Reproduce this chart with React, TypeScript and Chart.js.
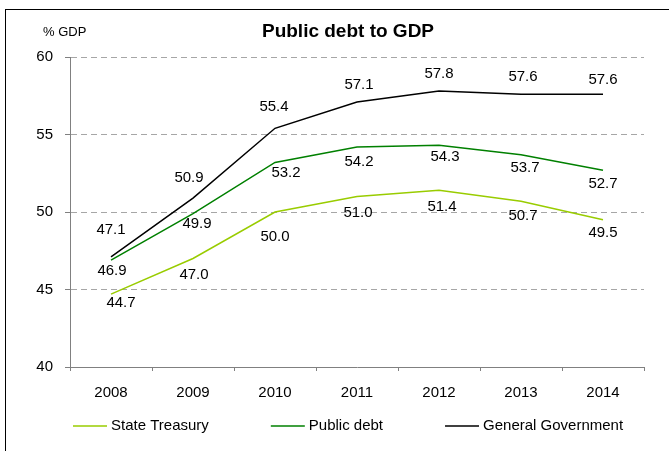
import React, { useEffect, useRef } from 'react';
import { Chart, registerables } from 'chart.js';

Chart.register(...registerables);

const years = ['2008', '2009', '2010', '2011', '2012', '2013', '2014'];
const stateTreasury = [44.7, 47.0, 50.0, 51.0, 51.4, 50.7, 49.5];
const publicDebt = [46.9, 49.9, 53.2, 54.2, 54.3, 53.7, 52.7];
const generalGovernment = [47.1, 50.9, 55.4, 57.1, 57.8, 57.6, 57.6];
const yMin = 40;
const yMax = 60;
const yStep = 5;

const FONT = "'Liberation Sans', Arial, sans-serif";

// label placement (style): [dx, dy] relative to the point
const stLabelOffsets = [[10, 9], [1, 16], [0, 25], [1, 16], [3, 17], [2, 15], [0, 13]];
const pdLabelOffsets = [[1, 11], [4, 10], [11, 10], [2, 15], [6, 12], [4, 13], [0, 14]];
const ggLabelOffsets = [[0, -27], [-4, -20], [-1, -21], [2, -17], [0, -17], [2, -17], [0, -14]];

const decorPlugin = {
  id: 'decor',
  afterDatasetsDraw(chart: any) {
    const ctx = chart.ctx;
    ctx.save();
    ctx.font = `15px ${FONT}`;
    ctx.fillStyle = '#000';
    ctx.textAlign = 'center';
    ctx.textBaseline = 'middle';
    chart.data.datasets.forEach((ds: any, i: number) => {
      const meta = chart.getDatasetMeta(i);
      meta.data.forEach((pt: any, j: number) => {
        const off = ds.labelOffsets[j];
        ctx.fillText(Number(ds.data[j]).toFixed(1), pt.x + off[0], pt.y + off[1]);
      });
    });
    ctx.restore();
  },
  afterDraw(chart: any) {
    const ctx = chart.ctx;
    ctx.save();
    // title
    ctx.fillStyle = '#000';
    ctx.textBaseline = 'middle';
    ctx.textAlign = 'center';
    ctx.font = `bold 19px ${FONT}`;
    ctx.fillText('Public debt to GDP', 348, 32);
    // unit
    ctx.textAlign = 'left';
    ctx.font = `13px ${FONT}`;
    ctx.fillText('% GDP', 43, 32);
    // legend
    ctx.font = `15px ${FONT}`;
    let x = 73;
    const y = 426;
    chart.data.datasets.forEach((ds: any) => {
      ctx.strokeStyle = ds.borderColor;
      ctx.lineWidth = 1.5;
      ctx.beginPath();
      ctx.moveTo(x, y);
      ctx.lineTo(x + 34, y);
      ctx.stroke();
      ctx.fillStyle = '#000';
      ctx.fillText(ds.label, x + 38, y);
      x += 38 + ctx.measureText(ds.label).width + 62;
    });
    ctx.restore();
  },
};

export default function App() {
  const ref = useRef<HTMLCanvasElement | null>(null);

  useEffect(() => {
    if (!ref.current) return;
    const chart = new Chart(ref.current, {
      type: 'line',
      data: {
        labels: years,
        datasets: [
          {
            label: 'State Treasury',
            data: stateTreasury,
            borderColor: '#99CC00',
            backgroundColor: '#99CC00',
            borderWidth: 1.5,
            pointRadius: 0,
            tension: 0,
            labelOffsets: stLabelOffsets,
          } as any,
          {
            label: 'Public debt',
            data: publicDebt,
            borderColor: '#008000',
            backgroundColor: '#008000',
            borderWidth: 1.5,
            pointRadius: 0,
            tension: 0,
            labelOffsets: pdLabelOffsets,
          } as any,
          {
            label: 'General Government',
            data: generalGovernment,
            borderColor: '#000000',
            backgroundColor: '#000000',
            borderWidth: 1.5,
            pointRadius: 0,
            tension: 0,
            labelOffsets: ggLabelOffsets,
          } as any,
        ],
      },
      options: {
        responsive: false,
        animation: false,
        devicePixelRatio: 1,
        layout: { padding: { top: 57, right: 25, bottom: 0, left: 0 } },
        plugins: {
          legend: { display: false },
          title: { display: false },
          tooltip: { enabled: false },
        },
        scales: {
          x: {
            type: 'category',
            offset: true,
            afterFit: (s: any) => { s.height = 84; },
            grid: {
              offset: true,
              drawOnChartArea: false,
              drawTicks: true,
              tickLength: 4,
              tickColor: '#808080',
              color: '#808080',
            },
            border: { display: true, color: '#808080', width: 1 },
            ticks: {
              color: '#000',
              font: { family: FONT, size: 15 },
              padding: 13,
              maxRotation: 0,
            },
          },
          y: {
            min: yMin,
            max: yMax,
            afterFit: (s: any) => { s.width = 70; },
            grid: {
              color: '#a6a6a6',
              drawTicks: true,
              tickLength: 5,
              tickColor: '#808080',
              tickBorderDash: [],
            } as any,
            border: { display: true, color: '#808080', width: 1, dash: [6, 4] },
            ticks: {
              stepSize: yStep,
              color: '#000',
              font: { family: FONT, size: 15 },
              padding: 12,
            },
          },
        },
      } as any,
      plugins: [decorPlugin],
    });
    return () => chart.destroy();
  }, []);

  return (
    <div style={{ position: 'fixed', left: 0, top: 0, width: 669, height: 451, background: '#fff', overflow: 'hidden' }}>
      <div
        style={{
          position: 'absolute',
          left: 5,
          top: 9,
          width: 700,
          height: 500,
          borderLeft: '1px solid #000',
          borderTop: '1px solid #000',
        }}
      />
      <canvas ref={ref} width={669} height={451} style={{ position: 'absolute', left: 0, top: 0 }} />
    </div>
  );
}
